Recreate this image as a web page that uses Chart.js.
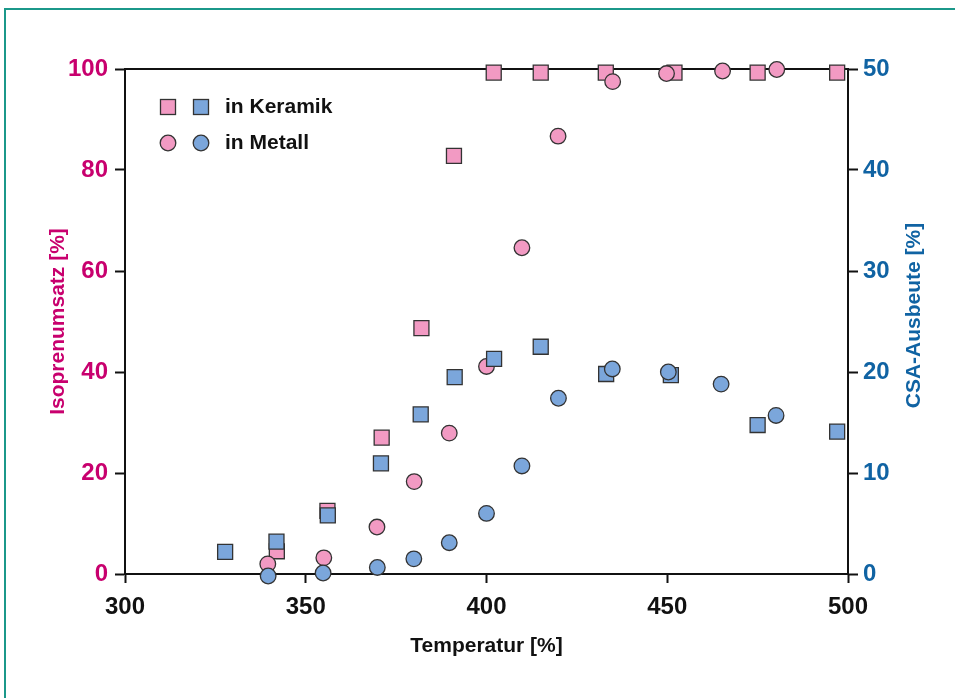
<!DOCTYPE html>
<html>
<head>
<meta charset="utf-8">
<script src="https://cdn.jsdelivr.net/npm/chart.js@4"></script>
<style>
  html, body { margin: 0; padding: 0; background: #fff; }
  #wrap { position: relative; width: 955px; height: 698px; overflow: hidden; }
  #frame { position: absolute; left: 4px; top: 8px; width: 1000px; height: 800px;
           border-left: 2px solid #1b988a; border-top: 2px solid #1b988a; }
  #chart { position: absolute; left: 0; top: 0; }
</style>
</head>
<body>
<div id="wrap">
  <div id="frame"></div>
  <canvas id="chart" width="955" height="698"></canvas>
</div>
<script>
// Temperature values and readings
const keramikTemp = [342, 356, 371, 382, 391, 402, 415, 433, 452, 475, 497];
const keramikUmsatz = [4.5, 12.5, 27, 48.7, 82.8, 99.3, 99.3, 99.3, 99.3, 99.3, 99.3];

const metallTemp = [339.5, 355, 369.7, 380, 389.7, 400, 409.8, 419.8, 434.9, 449.8, 465.3, 480.3];
const metallUmsatz = [2.0, 3.2, 9.3, 18.3, 27.9, 41.1, 64.6, 86.7, 97.5, 99.1, 99.6, 99.9];

const keramikCsaTemp = [327.7, 341.9, 356.1, 370.8, 381.8, 391.2, 402.1, 415, 433.1, 451, 475, 497];
const keramikAusbeute = [2.2, 3.2, 5.8, 10.95, 15.8, 19.5, 21.3, 22.5, 19.8, 19.7, 14.75, 14.1];

const metallCsaTemp = [339.6, 354.8, 369.8, 379.9, 389.7, 400, 409.8, 419.9, 434.8, 450.3, 464.9, 480.1];
const metallAusbeute = [-0.2, 0.1, 0.65, 1.5, 3.1, 6.0, 10.7, 17.4, 20.3, 20.0, 18.8, 15.7];

const xTicks = [300, 350, 400, 450, 500];

const pink = '#f29ac3';
const blue = '#7ba6db';
const edge = '#333333';
const magenta = '#c8006e';
const darkBlue = '#1063a3';
const fontFamily = "'Liberation Sans', Arial, sans-serif";

function toPoints(xs, ys) {
    return xs.map((x, i) => ({ x: x, y: ys[i] }));
}

// top frame line + custom legend + right axis title
const extrasPlugin = {
    id: 'extras',
    beforeDatasetsDraw(chart) {
        const { ctx, chartArea } = chart;
        ctx.save();
        ctx.strokeStyle = '#111';
        ctx.lineWidth = 2;
        ctx.beginPath();
        ctx.moveTo(chartArea.left, chartArea.top);
        ctx.lineTo(chartArea.right, chartArea.top);
        ctx.stroke();
        ctx.restore();
    },
    afterDraw(chart) {
        const { ctx, chartArea } = chart;
        ctx.save();
        ctx.lineWidth = 1.3;
        ctx.strokeStyle = edge;
        // squares
        [[168, pink], [201, blue]].forEach(([x, c]) => {
            ctx.fillStyle = c;
            ctx.fillRect(x - 7.5, 107 - 7.5, 15, 15);
            ctx.strokeRect(x - 7.5, 107 - 7.5, 15, 15);
        });
        // circles
        [[168, pink], [201, blue]].forEach(([x, c]) => {
            ctx.fillStyle = c;
            ctx.beginPath();
            ctx.arc(x, 143, 7.8, 0, Math.PI * 2);
            ctx.fill();
            ctx.stroke();
        });
        ctx.fillStyle = '#111';
        ctx.font = 'bold 21px ' + fontFamily;
        ctx.textAlign = 'left';
        ctx.textBaseline = 'middle';
        ctx.fillText('in Keramik', 225, 107);
        ctx.fillText('in Metall', 225, 143);

        // right axis title, reading bottom to top
        ctx.translate(914, (chartArea.top + chartArea.bottom) / 2 - 6);
        ctx.rotate(-Math.PI / 2);
        ctx.textAlign = 'center';
        ctx.fillStyle = darkBlue;
        ctx.font = 'bold 21px ' + fontFamily;
        ctx.fillText('CSA-Ausbeute [%]', 0, 0);
        ctx.restore();
    }
};

const ctx = document.getElementById('chart').getContext('2d');
new Chart(ctx, {
    type: 'scatter',
    data: {
        datasets: [
            {
                label: 'CSA in Metall',
                data: toPoints(metallCsaTemp, metallAusbeute),
                yAxisID: 'y1',
                pointStyle: 'circle',
                pointRadius: 7.8,
                backgroundColor: blue,
                borderColor: edge,
                borderWidth: 1.3,
                clip: false
            },
            {
                label: 'CSA in Keramik',
                data: toPoints(keramikCsaTemp, keramikAusbeute),
                yAxisID: 'y1',
                pointStyle: 'rect',
                pointRadius: 10.6,
                backgroundColor: blue,
                borderColor: edge,
                borderWidth: 1.3,
                clip: false
            },
            {
                label: 'Umsatz in Metall',
                data: toPoints(metallTemp, metallUmsatz),
                yAxisID: 'y',
                pointStyle: 'circle',
                pointRadius: 7.8,
                backgroundColor: pink,
                borderColor: edge,
                borderWidth: 1.3,
                clip: false
            },
            {
                label: 'Umsatz in Keramik',
                data: toPoints(keramikTemp, keramikUmsatz),
                yAxisID: 'y',
                pointStyle: 'rect',
                pointRadius: 10.6,
                backgroundColor: pink,
                borderColor: edge,
                borderWidth: 1.3,
                clip: false
            }
        ]
    },
    options: {
        responsive: false,
        animation: false,
        layout: { padding: { top: 69, left: 0, right: 0, bottom: 0 } },
        plugins: {
            legend: { display: false },
            tooltip: { enabled: false }
        },
        scales: {
            x: {
                type: 'linear',
                min: 300,
                max: 500,
                afterFit(scale) { scale.height = 124; },
                afterBuildTicks(scale) { scale.ticks = xTicks.map(v => ({ value: v })); },
                border: { display: true, color: '#111', width: 2 },
                grid: { drawOnChartArea: false, tickLength: 9, tickWidth: 2, tickColor: '#111' },
                ticks: {
                    color: '#111',
                    padding: 10,
                    font: { family: fontFamily, size: 24, weight: 'bold' }
                },
                title: {
                    display: true,
                    text: 'Temperatur [%]',
                    color: '#111',
                    align: 'center',
                    padding: { top: 0, bottom: 39 },
                    font: { family: fontFamily, size: 21, weight: 'bold' }
                }
            },
            y: {
                position: 'left',
                min: 0,
                max: 100,
                afterFit(scale) { scale.width = 125; },
                border: { display: true, color: '#111', width: 2 },
                grid: { drawOnChartArea: false, tickLength: 10, tickWidth: 2, tickColor: '#111' },
                ticks: {
                    stepSize: 20,
                    color: magenta,
                    padding: 7,
                    font: { family: fontFamily, size: 24, weight: 'bold' }
                },
                title: {
                    display: true,
                    text: 'Isoprenumsatz [%]',
                    color: magenta,
                    padding: { top: 46, bottom: 0 },
                    font: { family: fontFamily, size: 21, weight: 'bold' }
                }
            },
            y1: {
                position: 'right',
                min: 0,
                max: 50,
                afterFit(scale) { scale.width = 107; },
                border: { display: true, color: '#111', width: 2 },
                grid: { drawOnChartArea: false, tickLength: 10, tickWidth: 2, tickColor: '#111' },
                ticks: {
                    stepSize: 10,
                    color: darkBlue,
                    padding: 5,
                    font: { family: fontFamily, size: 24, weight: 'bold' }
                }
            }
        }
    },
    plugins: [extrasPlugin]
});
</script>
</body>
</html>
